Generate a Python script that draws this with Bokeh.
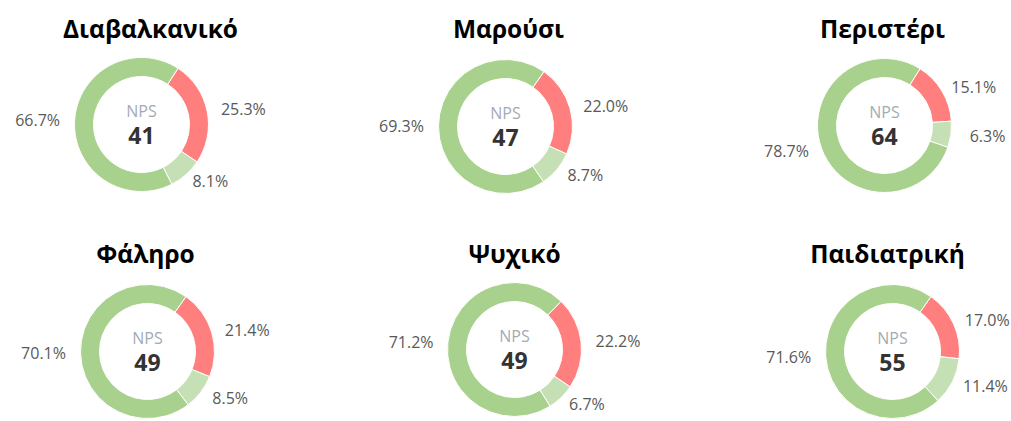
import math
from bokeh.plotting import figure
from bokeh.models import Range1d
from bokeh.core.properties import value
from bokeh.embed import file_html
from bokeh.resources import INLINE

# ---- data ----
sites = ["Διαβαλκανικό", "Μαρούσι", "Περιστέρι", "Φάληρο", "Ψυχικό", "Παιδιατρική"]
nps = [41, 47, 64, 49, 49, 55]
detractors = [25.3, 22.0, 15.1, 21.4, 22.2, 17.0]
passives = [8.1, 8.7, 6.3, 8.5, 6.7, 11.4]
promoters = [66.7, 69.3, 78.7, 70.1, 71.2, 71.6]

# ---- layout / style (pixels, y from top) ----
W, H = 1011, 421
ring_cx = [141, 505, 884, 147, 514, 892]
ring_cy = [124, 126, 125, 351, 349, 351]
title_cx = [150, 508, 882, 145, 514, 887]
title_cy = [28, 28, 28, 253, 253, 253]
start_deg = [33, 35, 32, 35, 44, 35]
R_OUT, R_IN = 67, 48
LAB_RX, LAB_RY = 104, 76
C_DET, C_PAS, C_PRO = "#FF7F7F", "#C5E0B4", "#A9D18E"
FONT = value("Open Sans")

p = figure(width=W, height=H, x_range=Range1d(0, W), y_range=Range1d(0, H),
           output_backend="svg", toolbar_location=None,
           x_axis_location=None, y_axis_location=None, min_border=0)
p.grid.visible = False
p.outline_line_color = None
p.background_fill_color = "white"
p.border_fill_color = "white"

def yy(y_down):
    return H - y_down

for i, site in enumerate(sites):
    cx, cy = ring_cx[i], yy(ring_cy[i])
    segs = [(detractors[i], C_DET), (passives[i], C_PAS), (promoters[i], C_PRO)]
    total = sum(s for s, _ in segs)
    theta = start_deg[i]
    xs, ys, st, en, cols, lx, ly, lt = [], [], [], [], [], [], [], []
    for v, col in segs:
        span = 360.0 * v / total
        t1, t2 = theta, theta + span
        xs.append(cx); ys.append(cy)
        st.append(math.radians(90 - t1)); en.append(math.radians(90 - t2))
        cols.append(col)
        mid = math.radians((t1 + t2) / 2)
        lx.append(cx + LAB_RX * math.sin(mid))
        ly.append(cy + LAB_RY * math.cos(mid))
        lt.append(f"{v:.1f}%")
        theta = t2
    p.annular_wedge(x=xs, y=ys, inner_radius=R_IN, outer_radius=R_OUT,
                    start_angle=st, end_angle=en, direction="clock",
                    fill_color=cols, line_color="white", line_width=1)
    p.text(x=lx, y=ly, text=lt, text_font=FONT, text_font_size="16px",
           text_color="#595959", text_align="center", text_baseline="middle")
    p.text(x=[cx], y=[cy + 14], text=["NPS"], text_font=FONT, text_font_size="16px",
           text_color="#A3ABB5", text_align="center", text_baseline="middle")
    p.text(x=[cx], y=[cy - 11], text=[str(nps[i])], text_font=FONT, text_font_size="23px",
           text_font_style="bold", text_color="#333333", text_align="center",
           text_baseline="middle")
    p.text(x=[title_cx[i]], y=[yy(title_cy[i])], text=[site], text_font=FONT,
           text_font_size="24.5px", text_font_style="bold", text_color="#000000",
           text_align="center", text_baseline="middle")

open("out.html", "w").write(file_html(p, INLINE))
